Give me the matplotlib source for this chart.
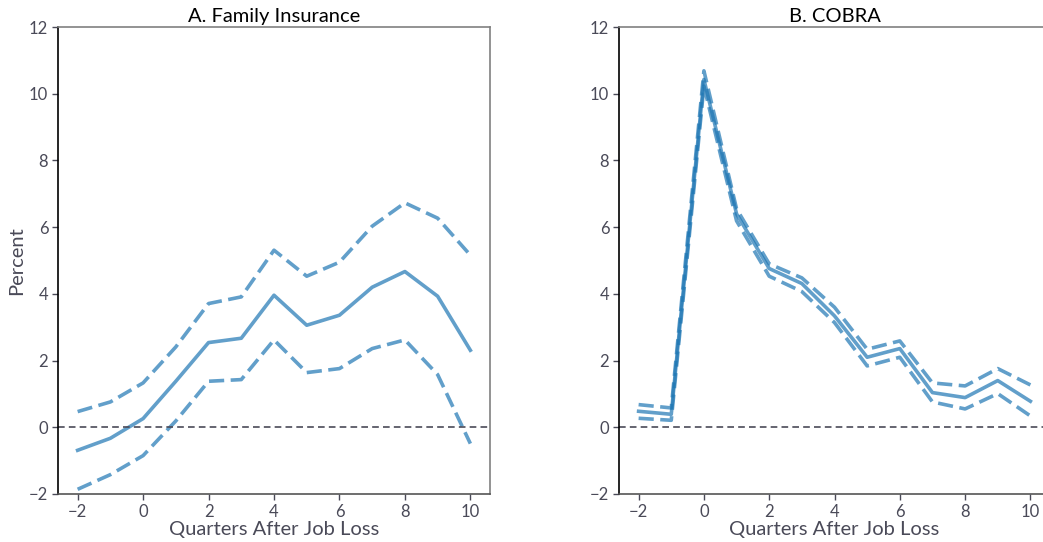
import matplotlib
matplotlib.use("Agg")
import matplotlib.pyplot as plt
import numpy as np

plt.rcParams['font.family'] = ['Lato', 'DejaVu Sans']

quarters = [-2, -1, 0, 1, 2, 3, 4, 5, 6, 7, 8, 9, 10]

family_est = [-0.69, -0.33, 0.26, 1.38, 2.54, 2.67, 3.96, 3.06, 3.36, 4.20, 4.67, 3.93, 2.31]
family_hi = [0.47, 0.76, 1.33, 2.41, 3.71, 3.91, 5.31, 4.53, 4.95, 6.03, 6.73, 6.27, 5.16]
family_lo = [-1.86, -1.42, -0.85, 0.19, 1.38, 1.43, 2.62, 1.64, 1.76, 2.36, 2.62, 1.58, -0.49]

cobra_est = [0.48, 0.39, 10.43, 6.40, 4.76, 4.31, 3.34, 2.10, 2.36, 1.04, 0.89, 1.40, 0.78]
cobra_hi = [0.68, 0.58, 10.69, 6.55, 4.90, 4.48, 3.60, 2.34, 2.59, 1.33, 1.24, 1.76, 1.27]
cobra_lo = [0.27, 0.21, 10.23, 6.19, 4.53, 4.07, 3.14, 1.84, 2.10, 0.76, 0.55, 1.01, 0.34]

titles = ["A. Family Insurance", "B. COBRA"]
panels = [(family_est, family_lo, family_hi), (cobra_est, cobra_lo, cobra_hi)]

line_color = '#1f77b4'
text_gray = '#4a4a58'

fig = plt.figure(figsize=(10.43, 5.42), dpi=100)
ax_pos = [[0.0556, 0.0886, 0.4142, 0.8614], [0.5935, 0.0886, 0.4132, 0.8614]]

for i, (pos, title, (est, lo, hi)) in enumerate(zip(ax_pos, titles, panels)):
    ax = fig.add_axes(pos)
    ax.plot(quarters, est, color=line_color, alpha=0.7, lw=2.6)
    ax.plot(quarters, hi, color=line_color, alpha=0.7, lw=2.6, ls='--', dashes=(4.2, 1.8))
    ax.plot(quarters, lo, color=line_color, alpha=0.7, lw=2.6, ls='--', dashes=(4.2, 1.8))
    ax.axhline(0, color=text_gray, lw=1.2, ls='--', dashes=(4, 2.5))
    ax.set_xlim(-2.6, 10.6)
    ax.set_ylim(-2, 12)
    ax.set_xticks([-2, 0, 2, 4, 6, 8, 10])
    ax.set_yticks([-2, 0, 2, 4, 6, 8, 10, 12])
    ax.set_title(title, fontsize=14.5, color='black', pad=4)
    ax.set_xlabel("Quarters After Job Loss", fontsize=14.5, color=text_gray, labelpad=1)
    if i == 0:
        ax.set_ylabel("Percent", fontsize=14.5, color=text_gray, labelpad=3)
    ax.tick_params(axis='both', labelsize=12, colors=text_gray, length=4, width=1, pad=3)
    ax.spines['left'].set_color('black')
    ax.spines['bottom'].set_color('#555555')
    ax.spines['top'].set_color('#808080')
    ax.spines['right'].set_color('#808080')
    for s in ax.spines.values():
        s.set_linewidth(1.2)

fig.savefig("out.png", dpi=100)
